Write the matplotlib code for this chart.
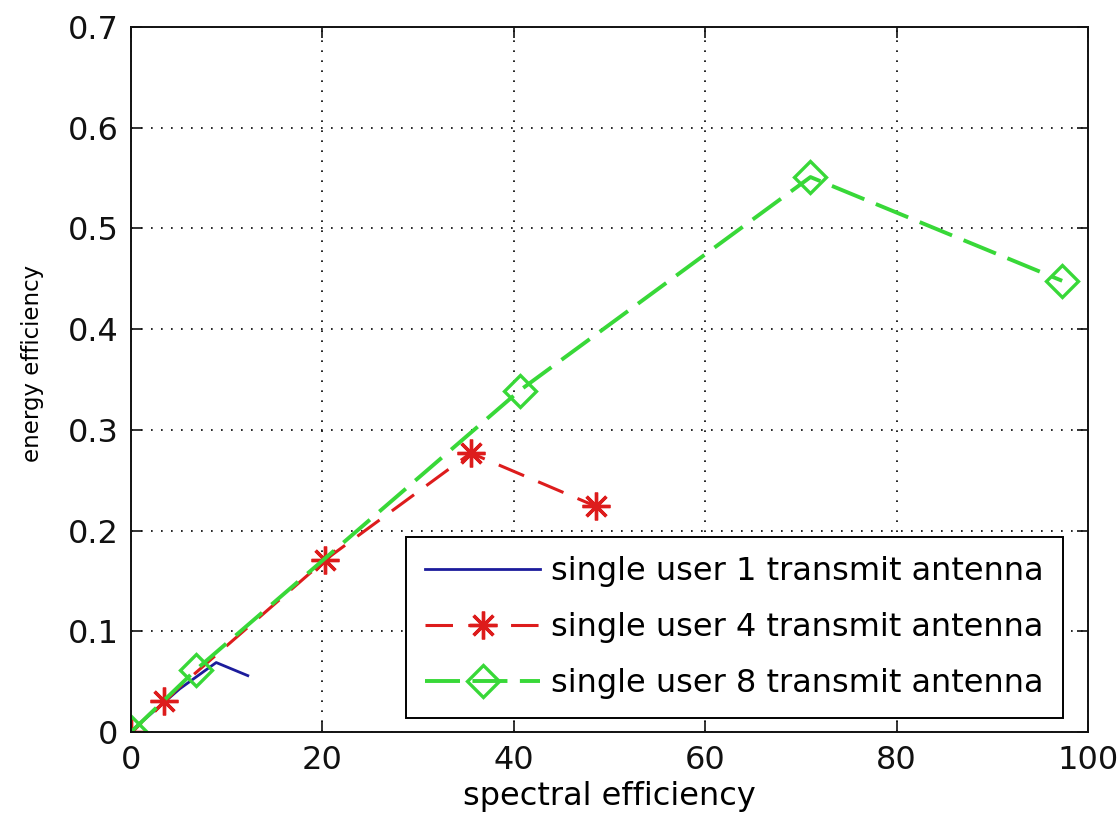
import matplotlib
matplotlib.use('Agg')
import matplotlib.pyplot as plt

# Data
se_1 = [0, 0.85, 5.1, 8.9, 12.2]          # single user, 1 antenna
ee_1 = [0, 0.008, 0.043, 0.069, 0.056]
se_4 = [0, 3.4, 20.3, 35.5, 48.6]         # single user, 4 antennas
ee_4 = [0, 0.031, 0.171, 0.277, 0.224]
se_8 = [0, 6.8, 40.6, 71.0, 97.3]         # single user, 8 antennas
ee_8 = [0, 0.062, 0.339, 0.551, 0.448]

labels = ['single user 1 transmit antenna',
          'single user 4 transmit antenna',
          'single user 8 transmit antenna']
x_ticks = [0, 20, 40, 60, 80, 100]
y_ticks = [0, 0.1, 0.2, 0.3, 0.4, 0.5, 0.6, 0.7]
y_tick_labels = ['0', '0.1', '0.2', '0.3', '0.4', '0.5', '0.6', '0.7']

plt.rcParams['font.family'] = ['DejaVu Sans']
fs = 23

fig = plt.figure(figsize=(11.19, 8.16), dpi=100)
fig.set_facecolor('white')
ax = fig.add_axes([0.1171, 0.1029, 0.9723 - 0.1171, 0.9669 - 0.1029])

ax.plot(se_1, ee_1, color='#1c1c9c', linewidth=2.0, label=labels[0])
ax.plot(se_4, ee_4, color='#dd1c1c', linewidth=2.2, linestyle=(0, (9, 5)),
        marker=(8, 2, 0), markersize=20, markeredgewidth=2.4, label=labels[1])
ax.plot(se_8, ee_8, color='#38d838', linewidth=2.8, linestyle=(0, (9, 3.2)),
        marker='D', markersize=16, markerfacecolor='none', markeredgewidth=2.4,
        label=labels[2])

ax.set_xlim(0, 100)
ax.set_ylim(0, 0.7)
ax.set_xticks(x_ticks)
ax.set_xticklabels([str(t) for t in x_ticks])
ax.set_yticks(y_ticks)
ax.set_yticklabels(y_tick_labels)

# MATLAB style box with inward ticks on all sides
ax.tick_params(direction='in', length=8, width=1.2, top=True, right=True,
               labelsize=fs, pad=9, colors='#111111')
for s in ax.spines.values():
    s.set_linewidth(1.4)
    s.set_color('#111111')

ax.grid(True, color='black', linestyle=(0, (1, 5)), linewidth=1.2)
ax.set_axisbelow(True)

ax.set_xlabel('spectral efficiency', fontsize=fs, va='top')
ax.xaxis.set_label_coords(0.5, -0.07)
ax.set_ylabel('energy efficiency', fontsize=16.5, va='center')
ax.yaxis.set_label_coords(-0.103, 0.523)

leg = ax.legend(loc='lower right', bbox_to_anchor=(0.974, 0.02),
                borderaxespad=0, fontsize=fs, frameon=True, fancybox=False,
                handlelength=3.6, handletextpad=0.35, labelspacing=0.78,
                borderpad=0.6)
leg.get_frame().set_edgecolor('black')
leg.get_frame().set_linewidth(1.4)
leg.get_frame().set_alpha(1)

plt.savefig('out.png', dpi=100, facecolor='white')
